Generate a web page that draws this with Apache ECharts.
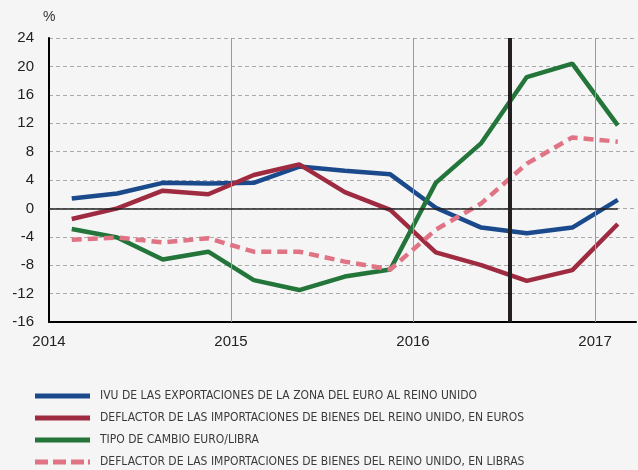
<!DOCTYPE html>
<html>
<head>
<meta charset="utf-8">
<script src="https://cdn.jsdelivr.net/npm/echarts@6/dist/echarts.min.js"></script>
<style>
  html, body { margin: 0; padding: 0; background: #f5f5f5; }
  #chart { width: 638px; height: 470px; }
</style>
</head>
<body>
<div id="chart"></div>
<script>
// quarterly points, centred in each quarter (2014 Q1 .. 2017 Q1)
const quarters = [
    2014.125, 2014.375, 2014.625, 2014.875,
    2015.125, 2015.375, 2015.625, 2015.875,
    2016.125, 2016.375, 2016.625, 2016.875,
    2017.125,
];
const ivu_exports = [1.4, 2.1, 3.6, 3.5, 3.6, 5.9, 5.3, 4.8, 0.1, -2.7, -3.5, -2.7, 1.2];
const deflator_eur = [-1.5, 0.0, 2.5, 2.0, 4.7, 6.2, 2.3, -0.2, -6.2, -8.0, -10.2, -8.7, -2.2];
const fx_eur_gbp = [-2.9, -4.1, -7.2, -6.1, -10.1, -11.5, -9.6, -8.6, 3.6, 9.2, 18.5, 20.4, 11.7];
const deflator_gbp = [-4.4, -4.1, -4.8, -4.2, -6.1, -6.1, -7.5, -8.6, -3.0, 0.7, 6.3, 10.0, 9.4];

const series_names = [
    "IVU DE LAS EXPORTACIONES DE LA ZONA DEL EURO AL REINO UNIDO",
    "DEFLACTOR DE LAS IMPORTACIONES DE BIENES DEL REINO UNIDO, EN EUROS",
    "TIPO DE CAMBIO EURO/LIBRA",
    "DEFLACTOR DE LAS IMPORTACIONES DE BIENES DEL REINO UNIDO, EN LIBRAS",
];
const year_lines = [2015, 2016, 2017];
const referendum_x = 2016.53;

const COLORS = ["#1b4a8c", "#9e2b40", "#23753a", "#e07485"];

// legend swatches: solid bar, and a dashed bar for the pound series
const SOLID_ICON = "path://M0,0h55v5h-55z";
const DASH_ICON = "path://M0,0h13v5h-13z M18,0h13v5h-13z M36,0h13v5h-13z M53,0h2v5h-2z";

function pairs(values) {
    return quarters.map((q, i) => [q, values[i]]);
}

function line_series(name, values, color, dashed) {
    return {
        name,
        type: "line",
        data: pairs(values),
        symbol: "none",
        lineStyle: { color, width: 4.5, type: dashed ? [10, 6] : "solid" },
        itemStyle: { color },
        z: 3,
    };
}

const chart = echarts.init(document.getElementById("chart"), null, { renderer: "canvas" });

chart.setOption({
    backgroundColor: "#f5f5f5",
    animation: false,
    textStyle: { fontFamily: "Liberation Sans, Arial, sans-serif" },
    grid: { left: 49, top: 38, right: 2, bottom: 148 },
    legend: {
        orient: "vertical",
        left: 35,
        top: 385,
        height: 100,
        padding: 0,
        itemWidth: 55,
        itemHeight: 5,
        itemGap: 0,
        data: series_names.map((name, i) => ({
            name,
            icon: i === 3 ? DASH_ICON : SOLID_ICON,
        })),
        textStyle: {
            fontFamily: "'DejaVu Sans Condensed', 'Liberation Sans Narrow', 'Roboto Condensed', sans-serif",
            fontSize: 12,
            lineHeight: 22,
            color: "#3a3a3a",
            padding: [0, 0, 0, 5],
        },
    },
    xAxis: {
        type: "value",
        min: 2014,
        max: 2017.225,
        interval: 1,
        axisLine: { show: true, onZero: false, lineStyle: { color: "#000", width: 2 } },
        axisTick: { show: false },
        axisLabel: {
            margin: 12,
            fontSize: 15,
            color: "#222",
            showMaxLabel: false,
            formatter: (v) => (Number.isInteger(v) ? String(v) : ""),
        },
        splitLine: { show: false },
    },
    yAxis: {
        type: "value",
        min: -16,
        max: 24,
        interval: 4,
        name: "%",
        nameLocation: "end",
        nameGap: 14,
        nameTextStyle: { fontSize: 14, color: "#333", align: "left", padding: [0, 0, 0, -6] },
        axisLine: { show: true, lineStyle: { color: "#000", width: 2 } },
        axisTick: { show: false },
        axisLabel: { margin: 15, fontSize: 15, color: "#222" },
        splitLine: { show: true, lineStyle: { color: "#aaa", type: [4, 3], width: 1 } },
    },
    series: [
        {
            name: "__grid",
            type: "line",
            data: [],
            silent: true,
            markLine: {
                silent: true,
                symbol: "none",
                label: { show: false },
                data: [
                    ...year_lines.map((y) => ({
                        xAxis: y,
                        lineStyle: { color: "#999", width: 1, type: "solid" },
                    })),
                    [
                        { coord: [2014, 0], lineStyle: { color: "#222", width: 1.5, type: "solid" } },
                        { coord: [2017.125, 0] },
                    ],
                ],
            },
            z: 1,
        },
        line_series(series_names[0], ivu_exports, COLORS[0], false),
        line_series(series_names[1], deflator_eur, COLORS[1], false),
        line_series(series_names[2], fx_eur_gbp, COLORS[2], false),
        {
            ...line_series(series_names[3], deflator_gbp, COLORS[3], true),
            markLine: {
                silent: true,
                symbol: "none",
                label: { show: false },
                data: [{ xAxis: referendum_x, lineStyle: { color: "#231f20", width: 4, type: "solid" } }],
                z: 10,
            },
        },
    ],
});
</script>
</body>
</html>
